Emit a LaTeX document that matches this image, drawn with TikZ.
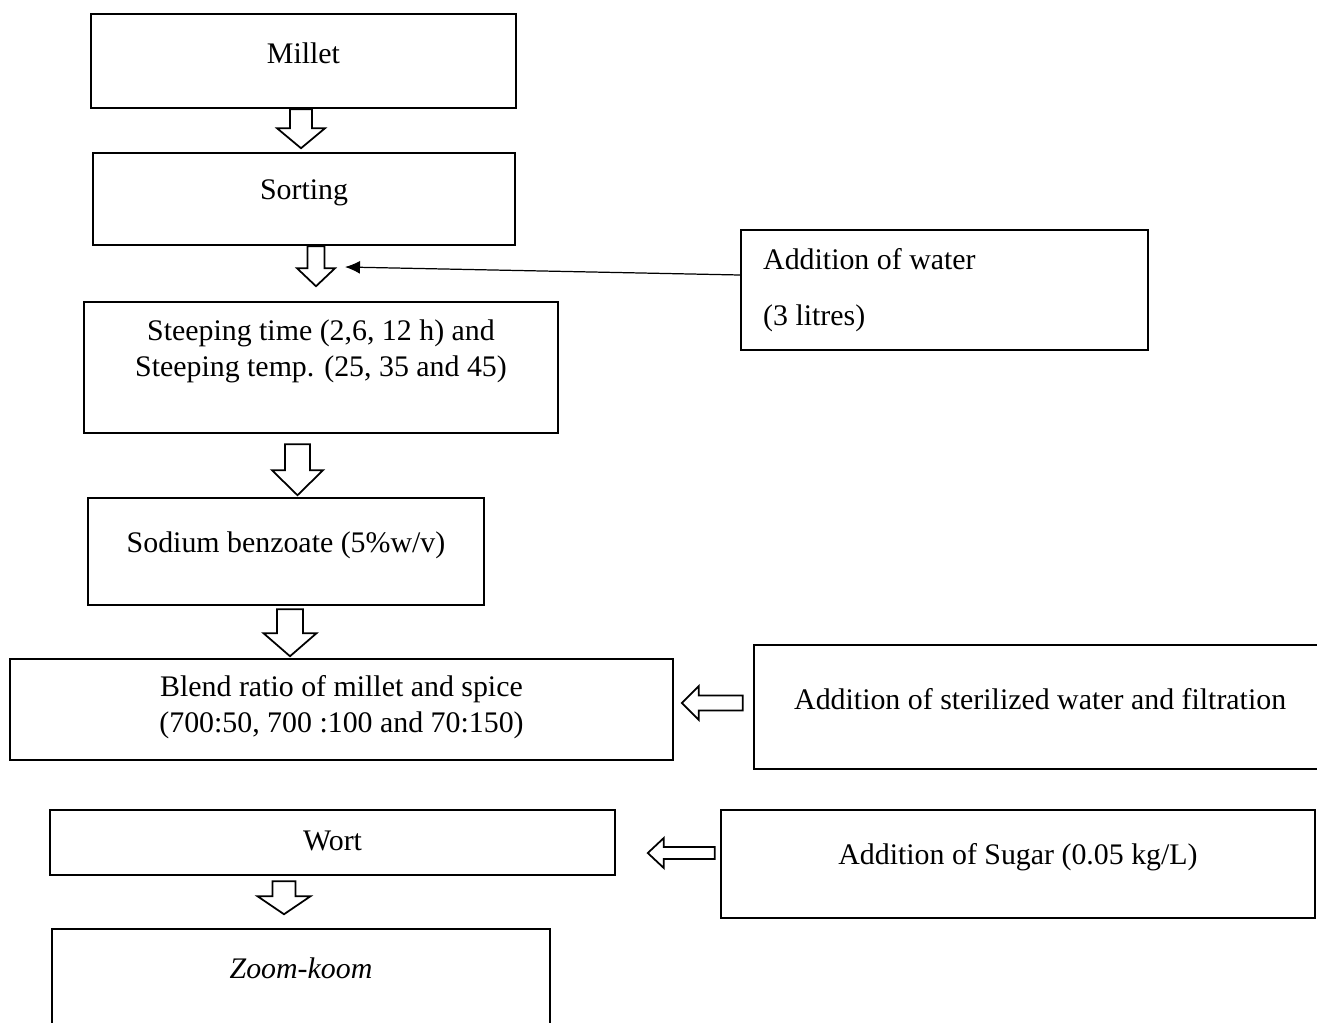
\documentclass[tikz,border=0pt]{standalone}
\usepackage{fontspec}
\setmainfont{Liberation Serif}
\usetikzlibrary{arrows.meta}

% hollow block arrow: start, angle, shaft half width, head half width, shaft length, head length
\newcommand{\blockarrow}[6]{%
  \draw[blockline, shift={(#1)}, rotate=#2] (0,#3) -- (#5,#3) -- (#5,#4)
    -- ({#5+#6},0) -- (#5,-#4) -- (#5,-#3) -- (0,-#3) -- cycle;}

\begin{document}
\begin{tikzpicture}[font=\fontsize{8.5}{10.3}\selectfont]
      \tikzstyle{box}=[draw,rectangle,line width=0.7pt,inner sep=0pt]
      \tikzstyle{blockline}=[line width=0.5pt,line join=miter]
      \clip (0,0) rectangle (13.17,-10.22);

      % main column
      \node[box,minimum width=4.25cm,minimum height=0.94cm,
            label={[yshift=0.08cm]center:Millet}] (millet) at (3.035,-0.61) {};
      \node[box,minimum width=4.22cm,minimum height=0.92cm,
            label={[yshift=0.06cm]center:Sorting}] (sorting) at (3.04,-1.99) {};
      \node[box,minimum width=4.74cm,minimum height=1.31cm,
            label={[yshift=0.16cm,align=center]center:Steeping time (2,6, 12 h) and\\Steeping temp. (25, 35 and 45)}]
            (steeping) at (3.21,-3.675) {};
      \node[box,minimum width=3.96cm,minimum height=1.07cm,
            label={[yshift=0.065cm]center:Sodium benzoate (5\%w/v)}] (sodium) at (2.86,-5.515) {};
      \node[box,minimum width=6.63cm,minimum height=1.01cm,
            label={[yshift=0.025cm,align=center]center:Blend ratio of millet and spice\\(700:50, 700 :100 and 70:150)}]
            (blend) at (3.415,-7.095) {};
      \node[box,minimum width=5.65cm,minimum height=0.65cm,
            label={[yshift=0.02cm]center:Wort}] (wort) at (3.325,-8.425) {};
      \node[box,minimum width=4.98cm,minimum height=1.31cm,
            label={[yshift=0.26cm]center:\textit{Zoom-koom}}] (zoomkoom) at (3.01,-9.945) {};

      % side boxes
      \node[box,minimum width=4.07cm,minimum height=1.2cm,
            label={[anchor=west,align=left,xshift=0.11cm,yshift=0.0cm]west:Addition of water\\[5.6pt](3 litres)}]
            (water) at (9.445,-2.9) {};
      \node[box,minimum width=5.86cm,minimum height=1.24cm,
            label={[anchor=west,xshift=0.29cm,yshift=0.08cm]west:Addition of sterilized water and filtration}]
            (sterile) at (10.47,-7.07) {};
      \node[box,minimum width=5.94cm,minimum height=1.08cm,
            label={[yshift=0.065cm]center:Addition of Sugar (0.05 kg/L)}] (sugar) at (10.18,-8.64) {};

      % flow arrows
      \blockarrow{[xshift=-0.025cm]millet.south}{-90}{0.11}{0.24}{0.19}{0.20}
      \blockarrow{[xshift=0.12cm]sorting.south}{-90}{0.085}{0.19}{0.22}{0.18}
      \blockarrow{[xshift=-0.235cm,yshift=-0.1cm]steeping.south}{-90}{0.125}{0.255}{0.26}{0.25}
      \blockarrow{[xshift=0.04cm,yshift=-0.03cm]sodium.south}{-90}{0.13}{0.265}{0.24}{0.23}
      \blockarrow{[xshift=-0.485cm,yshift=-0.05cm]wort.south}{-90}{0.115}{0.265}{0.15}{0.18}
      \blockarrow{[xshift=-0.1cm,yshift=0.04cm]sterile.west}{180}{0.075}{0.17}{0.44}{0.17}
      \blockarrow{[xshift=-0.05cm,yshift=0.11cm]sugar.west}{180}{0.06}{0.15}{0.51}{0.16}

      \coordinate (waterin) at (3.45,-2.67);
      \draw[line width=0.35pt,-{Latex[length=1.5mm,width=1.3mm]}]
            ([yshift=0.15cm]water.west) -- (waterin);
\end{tikzpicture}
\end{document}
